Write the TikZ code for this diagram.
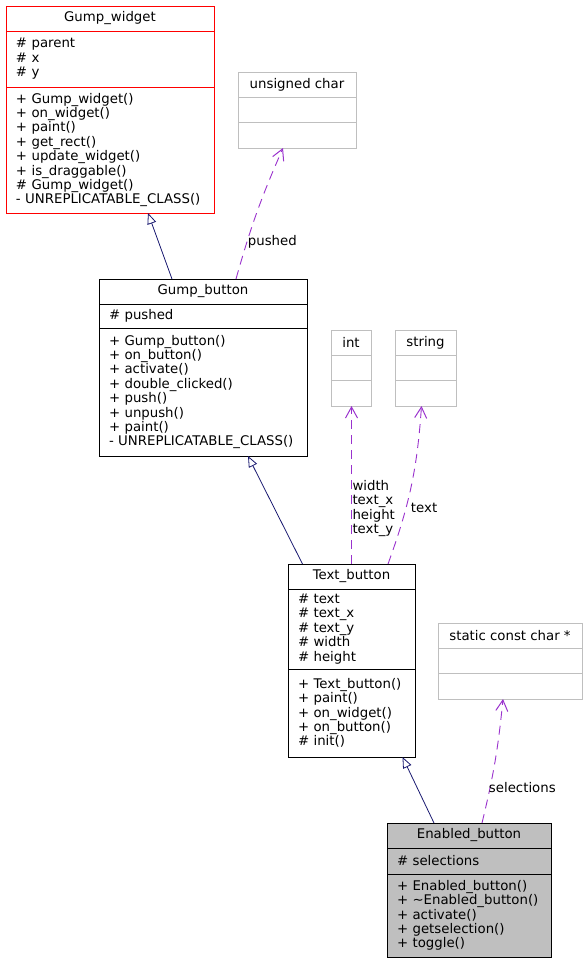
\documentclass[tikz,border=0pt]{standalone}
\usepackage{fontspec}
\setmainfont{DejaVu Sans}
\usetikzlibrary{positioning,arrows.meta}
\definecolor{edgeblue}{HTML}{191970}
\definecolor{edgepurple}{HTML}{9A32CD}
\definecolor{boxgray}{HTML}{BFBFBF}

\begin{document}
\begin{tikzpicture}[x=1pt,y=-1pt,
    every node/.style={font=\fontsize{13.3}{14.4}\selectfont, outer sep=0pt, inner ysep=0pt},
    classname/.style={draw, line width=0.8pt, minimum width=#1, minimum height=25pt},
    compart/.style={draw, line width=0.8pt, text width=#1, inner xsep=10pt, align=left},
    inherit/.style={color=edgeblue, line width=0.8pt, -{Triangle[open, length=11pt, width=9pt]}},
    usage/.style={color=edgepurple, line width=0.9pt, dash pattern=on 9pt off 6pt,
      -{Straight Barb[length=11pt, width=12pt, line width=1pt]}},
    lbl/.style={inner xsep=1pt, align=left, text=black}]
  \useasboundingbox (0,0) rectangle (587,963);

  % Gump_widget
  \node[classname=208, draw=red, anchor=north west] (widget) at (6,6) {Gump\_widget};
  \node[compart=188, draw=red, minimum height=56pt, below=0pt of widget] (widgetattr) {\# parent\\\# x\\\# y};
  \node[compart=188, draw=red, minimum height=126pt, below=0pt of widgetattr] (widgetops)
    {+ Gump\_widget()\\+ on\_widget()\\+ paint()\\+ get\_rect()\\+ update\_widget()\\+ is\_draggable()\\\# Gump\_widget()\\-~UNREPLICATABLE\_CLASS()};

  % unsigned char
  \node[classname=118, draw=boxgray, anchor=north west] (uchar) at (238,72) {unsigned char};
  \node[compart=98, draw=boxgray, minimum height=25.5pt, below=0pt of uchar] (ucharattr) {};
  \node[compart=98, draw=boxgray, minimum height=25.5pt, below=0pt of ucharattr] (ucharops) {};

  % Gump_button
  \node[classname=208, anchor=north west] (button) at (99,279) {Gump\_button};
  \node[compart=188, minimum height=24pt, below=0pt of button] (buttonattr) {\# pushed};
  \node[compart=188, minimum height=128pt, below=0pt of buttonattr] (buttonops)
    {+ Gump\_button()\\+ on\_button()\\+ activate()\\+ double\_clicked()\\+ push()\\+ unpush()\\+ paint()\\-~UNREPLICATABLE\_CLASS()};

  % int
  \node[classname=40, draw=boxgray, anchor=north west] (int) at (331,330) {int};
  \node[compart=20, draw=boxgray, minimum height=25.5pt, below=0pt of int] (intattr) {};
  \node[compart=20, draw=boxgray, minimum height=25.5pt, below=0pt of intattr] (intops) {};

  % string
  \node[classname=61, draw=boxgray, anchor=north west] (string) at (395,330) {string};
  \node[compart=41, draw=boxgray, minimum height=25.5pt, below=0pt of string] (stringattr) {};
  \node[compart=41, draw=boxgray, minimum height=25.5pt, below=0pt of stringattr] (stringops) {};

  % Text_button
  \node[classname=127, anchor=north west] (tbutton) at (288,564) {Text\_button};
  \node[compart=107, minimum height=80pt, below=0pt of tbutton] (tbuttonattr)
    {\# text\\\# text\_x\\\# text\_y\\\# width\\\# height};
  \node[compart=107, minimum height=88pt, below=0pt of tbuttonattr] (tbuttonops)
    {+ Text\_button()\\+ paint()\\+ on\_widget()\\+ on\_button()\\\# init()};

  % static const char *
  \node[classname=144, draw=boxgray, anchor=north west] (schar) at (438,623) {static const char *};
  \node[compart=124, draw=boxgray, minimum height=25.5pt, below=0pt of schar] (scharattr) {};
  \node[compart=124, draw=boxgray, minimum height=25.5pt, below=0pt of scharattr] (scharops) {};

  % Enabled_button
  \node[classname=164, fill=boxgray, anchor=north west] (ebutton) at (387,823) {Enabled\_button};
  \node[compart=144, fill=boxgray, minimum height=26pt, below=0pt of ebutton] (ebuttonattr) {\# selections};
  \node[compart=144, fill=boxgray, minimum height=83pt, below=0pt of ebuttonattr] (ebuttonops)
    {+ Enabled\_button()\\+ \textasciitilde Enabled\_button()\\+ activate()\\+ getselection()\\+ toggle()};

  % inheritance
  \draw[inherit] ([xshift=-31pt]button.north) -- ([xshift=38pt]widgetops.south);
  \draw[inherit] ([xshift=-49pt]tbutton.north) -- ([xshift=45pt]buttonops.south);
  \draw[inherit] ([xshift=-35pt]ebutton.north) -- ([xshift=51pt]tbuttonops.south);

  % usage
  \draw[usage] ([xshift=33pt]button.north) to[bend left=4]
    node[lbl, right, pos=0.26] {pushed} ([xshift=-14pt]ucharops.south);
  \draw[usage] (tbutton.north) -- coordinate[pos=0.35] (intlbl) ([xshift=0.5pt]intops.south);
  \node[lbl, right] (intnames) at (intlbl) {width\\text\_x\\height\\text\_y};
  \draw[usage] ([xshift=36.5pt]tbutton.north) to[bend right=8]
    node[lbl, right, pos=0.35, xshift=4pt] {text} ([xshift=-4pt]stringops.south);
  \draw[usage] ([xshift=13pt]ebutton.north) to[bend right=4]
    node[lbl, right, pos=0.27, xshift=-2pt] {selections} ([xshift=-7pt]scharops.south);
\end{tikzpicture}
\end{document}
